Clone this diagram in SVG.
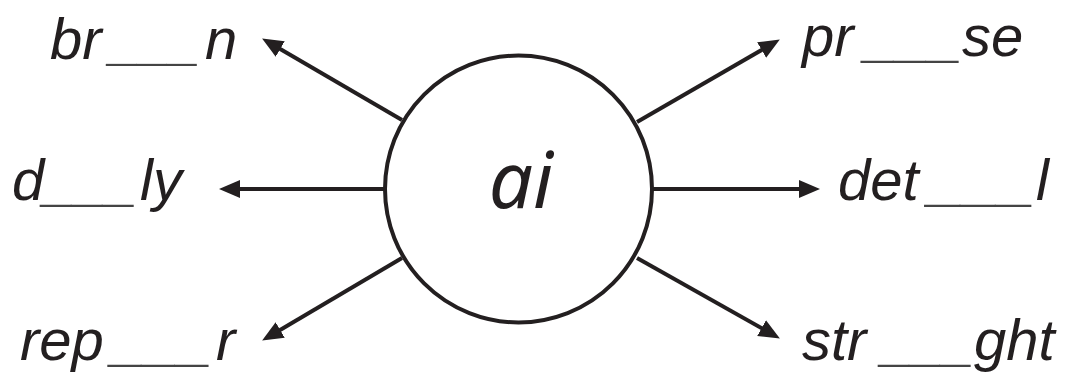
<svg xmlns="http://www.w3.org/2000/svg" width="1083" height="376" viewBox="0 0 1083 376">
  <style>
    .lbl { font-family: "Liberation Sans", Arial, sans-serif; font-style: italic; font-size: 58px; fill: #231f20; }
    .blank { fill: #444; }
    .conn { stroke: #231f20; stroke-width: 4; fill: none; marker-end: url(#arrow); }
    .hub { fill: #fff; stroke: #231f20; stroke-width: 4; }
    .hubtxt { font-family: "Noto Sans", "DejaVu Sans", sans-serif; font-style: italic; font-size: 78px; fill: #231f20; }
  </style>
  <defs>
    <marker id="arrow" markerUnits="userSpaceOnUse" markerWidth="22" markerHeight="20" refX="10" refY="10" orient="auto">
      <path d="M0,1 L21,10 L0,19 z" fill="#231f20"/>
    </marker>
  </defs>
  <rect width="1083" height="376" fill="#fff"/>
  <g id="connectors">
    <line class="conn" x1="402" y1="120" x2="271.6" y2="44"/>
    <line class="conn" x1="384" y1="189" x2="230" y2="189"/>
    <line class="conn" x1="402" y1="258" x2="271.6" y2="335"/>
    <line class="conn" x1="637" y1="122" x2="770.3" y2="45"/>
    <line class="conn" x1="652" y1="189" x2="809" y2="189"/>
    <line class="conn" x1="637" y1="258" x2="770.3" y2="333"/>
  </g>
  <g id="hub">
    <circle class="hub" cx="518.5" cy="189" r="133.5"/>
    <text class="hubtxt" x="521" y="208" text-anchor="middle">ai</text>
  </g>
  <g id="node-brain">
    <text class="lbl" x="50" y="59">br<tspan class="blank" x="110" textLength="90" lengthAdjust="spacingAndGlyphs">___</tspan><tspan x="205">n</tspan></text>
  </g>
  <g id="node-daily">
    <text class="lbl" x="12" y="200">d<tspan class="blank" x="44" textLength="93" lengthAdjust="spacingAndGlyphs">___</tspan><tspan x="140">ly</tspan></text>
  </g>
  <g id="node-repair">
    <text class="lbl" x="20" y="360">rep<tspan class="blank" x="112" textLength="100" lengthAdjust="spacingAndGlyphs">___</tspan><tspan x="216">r</tspan></text>
  </g>
  <g id="node-praise">
    <text class="lbl" x="802" y="56">pr<tspan class="blank" x="865" textLength="97" lengthAdjust="spacingAndGlyphs">___</tspan><tspan x="962">se</tspan></text>
  </g>
  <g id="node-detail">
    <text class="lbl" x="838" y="200">det<tspan class="blank" x="929" textLength="106" lengthAdjust="spacingAndGlyphs">___</tspan><tspan x="1036">l</tspan></text>
  </g>
  <g id="node-straight">
    <text class="lbl" x="802" y="360">str<tspan class="blank" x="882" textLength="92" lengthAdjust="spacingAndGlyphs">___</tspan><tspan x="974">ght</tspan></text>
  </g>
</svg>
